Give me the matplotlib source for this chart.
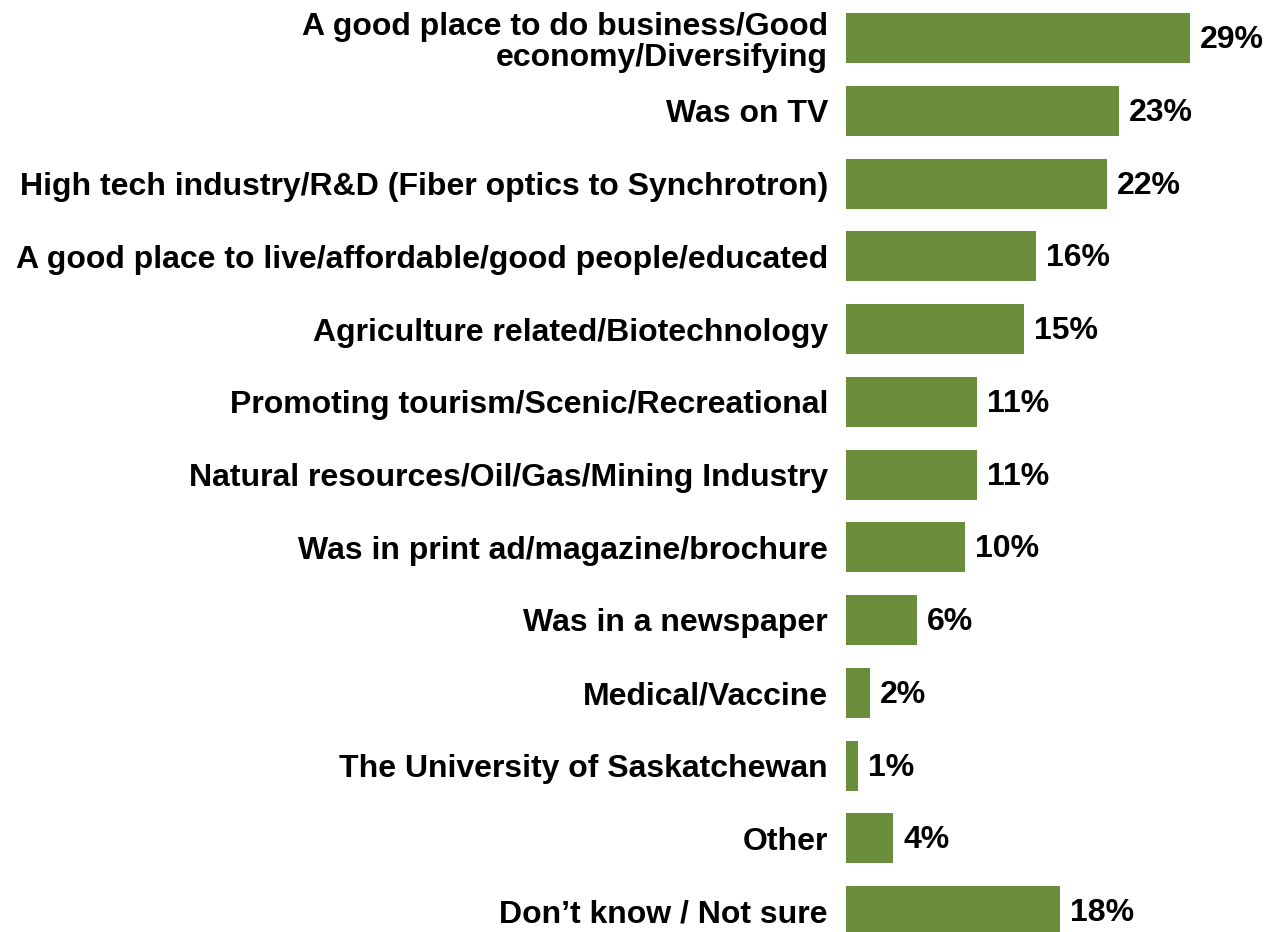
import matplotlib
matplotlib.use("Agg")
import matplotlib.pyplot as plt

categories = [
    "A good place to do business/Good\neconomy/Diversifying",
    "Was on TV",
    "High tech industry/R&D (Fiber optics to Synchrotron)",
    "A good place to live/affordable/good people/educated",
    "Agriculture related/Biotechnology",
    "Promoting tourism/Scenic/Recreational",
    "Natural resources/Oil/Gas/Mining Industry",
    "Was in print ad/magazine/brochure",
    "Was in a newspaper",
    "Medical/Vaccine",
    "The University of Saskatchewan",
    "Other",
    "Don\u2019t know / Not sure",
]
values = [29, 23, 22, 16, 15, 11, 11, 10, 6, 2, 1, 4, 18]
labels = [f"{v}%" for v in values]

plt.rcParams['font.family'] = ['Liberation Sans', 'DejaVu Sans']

W, H = 1266, 932
fig = plt.figure(figsize=(W / 100, H / 100), dpi=100)
ax_left = 846 / W
ax = fig.add_axes([ax_left, 0, 1 - ax_left, 1])

px_per_unit = 11.87
xmax = (W - 846) / px_per_unit
c0, step = 38.0, 72.75
ytop = (0 - c0) / step
ybot = (H - c0) / step

y = list(range(len(categories)))
ax.barh(y, values, height=50 / step, color="#6A8D3B", edgecolor="none")
ax.set_xlim(0, xmax)
ax.set_ylim(ybot, ytop)

for i, (v, lab) in enumerate(zip(values, labels)):
    ax.text(v + 10 / px_per_unit, i + 0.03, lab, va="center", ha="left",
            fontsize=23, fontweight="bold", color="black")

ax.set_yticks(y)
ax.set_yticklabels(categories, fontsize=23, fontweight="bold", linespacing=1.05)
ax.tick_params(axis="y", length=0, pad=13)
ax.set_xticks([])
for s in ax.spines.values():
    s.set_visible(False)

fig.savefig("out.png", dpi=100)
